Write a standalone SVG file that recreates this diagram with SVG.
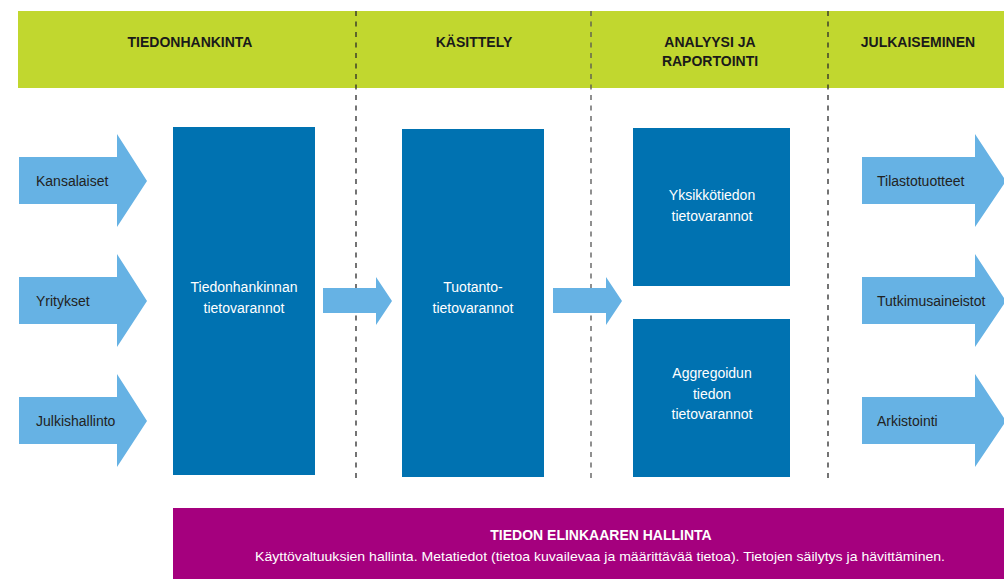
<svg xmlns="http://www.w3.org/2000/svg" width="1004" height="579" viewBox="0 0 1004 579">
<style>
.band{fill:#c1d72f}
.hdr{font-family:"Liberation Sans",Arial,sans-serif;font-weight:bold;font-size:14px;fill:#1a1a1a;text-anchor:middle}
.box{fill:#0072b1}
.boxt{font-family:"Liberation Sans",Arial,sans-serif;font-size:14px;fill:#ffffff;text-anchor:middle}
.arr{fill:#66b2e4}
.arrt{font-family:"Liberation Sans",Arial,sans-serif;font-size:14px;fill:#222222}
.dash{stroke:#2a2a2a;stroke-width:1.3;stroke-dasharray:5 5.5;fill:none}
.pur{fill:#a5007e}
.purt{font-family:"Liberation Sans",Arial,sans-serif;fill:#ffffff;text-anchor:middle}
</style>
<rect width="1004" height="579" fill="#ffffff"/>
<g id="header">
<rect class="band" x="18" y="11" width="986" height="77"/>
<text class="hdr" x="190" y="47">TIEDONHANKINTA</text>
<text class="hdr" x="474" y="47">KÄSITTELY</text>
<text class="hdr" x="710" y="47">ANALYYSI JA</text>
<text class="hdr" x="710" y="66">RAPORTOINTI</text>
<text class="hdr" x="918" y="47">JULKAISEMINEN</text>
</g>
<g id="dividers">
<line class="dash" x1="356" y1="11" x2="356" y2="478"/>
<line class="dash" x1="591" y1="11" x2="591" y2="478" style="stroke:#555"/>
<line class="dash" x1="828" y1="11" x2="828" y2="478"/>
</g>
<g id="src-kansalaiset">
<polygon class="arr" points="19,157 117,157 117,134 147,181 117,227 117,204 19,204"/>
<text class="arrt" x="36" y="186">Kansalaiset</text>
</g>
<g id="src-yritykset">
<polygon class="arr" points="19,277 117,277 117,254 147,301 117,347 117,324 19,324"/>
<text class="arrt" x="36" y="306">Yritykset</text>
</g>
<g id="src-julkishallinto">
<polygon class="arr" points="19,397 117,397 117,374 147,421 117,467 117,444 19,444"/>
<text class="arrt" x="36" y="426">Julkishallinto</text>
</g>
<g id="tiedonhankinnan">
<rect class="box" x="173" y="127" width="142" height="348"/>
<text class="boxt" x="244" y="292">Tiedonhankinnan</text>
<text class="boxt" x="244" y="313">tietovarannot</text>
</g>
<g id="tuotanto">
<rect class="box" x="402" y="129" width="142" height="348"/>
<text class="boxt" x="473" y="292">Tuotanto-</text>
<text class="boxt" x="473" y="313">tietovarannot</text>
</g>
<g id="yksikko">
<rect class="box" x="633" y="128" width="157" height="158"/>
<text class="boxt" x="712" y="200">Yksikkötiedon</text>
<text class="boxt" x="712" y="221">tietovarannot</text>
</g>
<g id="aggregoidun">
<rect class="box" x="633" y="319" width="157" height="158"/>
<text class="boxt" x="712" y="378">Aggregoidun</text>
<text class="boxt" x="712" y="399">tiedon</text>
<text class="boxt" x="712" y="419">tietovarannot</text>
</g>
<g id="connectors">
<polygon class="arr" points="323,288 376,288 376,277 392,301 376,325 376,313 323,313"/>
<polygon class="arr" points="553,288 606,288 606,277 622,301 606,325 606,313 553,313"/>
</g>
<g id="out-tilastotuotteet">
<polygon class="arr" points="862,157 975,157 975,134 1006,181 975,227 975,204 862,204"/>
<text class="arrt" x="877" y="186">Tilastotuotteet</text>
</g>
<g id="out-tutkimusaineistot">
<polygon class="arr" points="862,277 975,277 975,254 1006,301 975,347 975,324 862,324"/>
<text class="arrt" x="877" y="306">Tutkimusaineistot</text>
</g>
<g id="out-arkistointi">
<polygon class="arr" points="862,397 975,397 975,374 1006,421 975,467 975,444 862,444"/>
<text class="arrt" x="877" y="426">Arkistointi</text>
</g>
<g id="elinkaari">
<rect class="pur" x="173" y="508" width="831" height="71"/>
<text class="purt" x="601" y="540" style="font-weight:bold;font-size:14px">TIEDON ELINKAAREN HALLINTA</text>
<text class="purt" x="600" y="561" style="font-size:13px" textLength="690" lengthAdjust="spacingAndGlyphs">Käyttövaltuuksien hallinta. Metatiedot (tietoa kuvailevaa ja määrittävää tietoa). Tietojen säilytys ja hävittäminen.</text>
</g>
</svg>
